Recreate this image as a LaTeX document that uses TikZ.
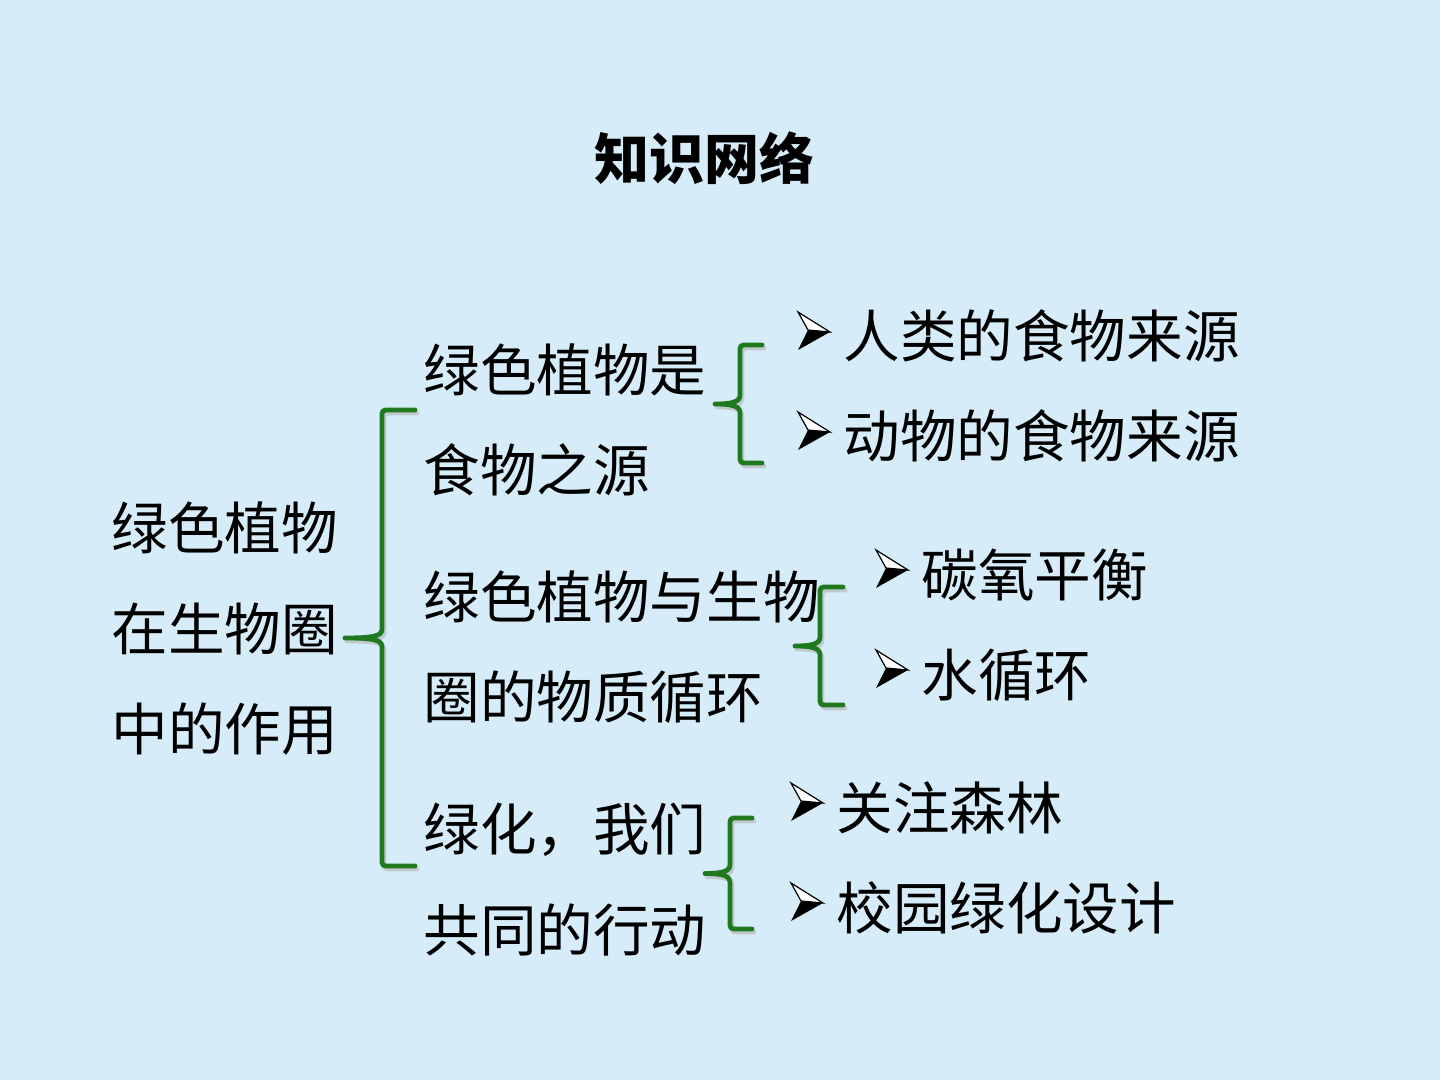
\documentclass[tikz,border=0pt]{standalone}
\usepackage{fontspec}
\newfontfamily\cjk{Noto Sans CJK SC}
\definecolor{bgblue}{HTML}{D6ECF8}
\definecolor{brgreen}{HTML}{1F7A1F}
\tikzset{
  txt/.style={anchor=west,inner sep=0pt,font=\cjk\fontsize{28.3}{34}\selectfont,text=black},
  ttl/.style={anchor=center,inner sep=0pt,font=\cjk\bfseries\fontsize{27.5}{33}\selectfont,text=black},
  brline/.style={draw=brgreen,line width=2.4pt,line cap=round,line join=round},
  brshadow/.style={draw=gray!60,line width=2.4pt,line cap=round,line join=round,opacity=0.6}
}
% brace: #1 style, #2 = vertical x, #3 = top y, #4 = bottom y, #5 = tip x, #6 = end x
\newcommand\gbrace[6]{%
  \path[#1] ({#6},{#3}) -- ({#2+8},{#3}) .. controls ({#2},{#3}) and ({#2},{#3}) .. ({#2},{#3+8})
    -- ({#2},{(#3+#4)/2-9}) .. controls ({#2},{(#3+#4)/2-2}) and ({#2-8},{(#3+#4)/2}) .. ({#5},{(#3+#4)/2})
    .. controls ({#2-8},{(#3+#4)/2}) and ({#2},{(#3+#4)/2+2}) .. ({#2},{(#3+#4)/2+9})
    -- ({#2},{#4-8}) .. controls ({#2},{#4}) and ({#2},{#4}) .. ({#2+8},{#4}) -- ({#6},{#4});%
}
\newcommand\mybrace[5]{%
  \begin{scope}[shift={(2,3)}]\gbrace{brshadow}{#1}{#2}{#3}{#4}{#5}\end{scope}
  \gbrace{brline}{#1}{#2}{#3}{#4}{#5}%
}
% arrow marker with tip at (#1,#2)
\newcommand\arrowmark[2]{%
  \fill[black] ({#1-22},{#2-2}) -- ({#1},{#2}) -- ({#1-32},{#2+18}) -- cycle;
  \filldraw[fill=white,draw=black,line width=0.6pt,line join=miter] ({#1-32},{#2-20}) -- ({#1},{#2}) -- ({#1-22},{#2-2}) -- cycle;
}
\begin{document}
\begin{tikzpicture}[x=0.5pt,y=-0.5pt]
\fill[bgblue] (0,0) rectangle (1440,1080);
\useasboundingbox (0,0) rectangle (1440,1080);

\node[ttl] (title) at (704,158) {知识网络};

\node[txt] (l1) at (111,528) {绿色植物};
\node[txt] (l2) at (111,629) {在生物圈};
\node[txt] (l3) at (111,729) {中的作用};

\node[txt] (a1) at (423,370) {绿色植物是};
\node[txt] (a2) at (423,470) {食物之源};
\node[txt] (b1) at (423,597) {绿色植物与生物};
\node[txt] (b2) at (423,697) {圈的物质循环};
\node[txt] (c1) at (423,830) {绿化，我们};
\node[txt] (c2) at (423,930) {共同的行动};

\node[txt] (a11) at (843,336) {人类的食物来源};
\node[txt] (a12) at (843,436) {动物的食物来源};
\node[txt] (b11) at (921,575) {碳氧平衡};
\node[txt] (b12) at (921,675) {水循环};
\node[txt] (c11) at (836,808) {关注森林};
\node[txt] (c12) at (836,908) {校园绿化设计};

\mybrace{382}{410}{866}{345}{415}
\mybrace{740}{345}{463}{715}{762}
\mybrace{820}{587}{705}{795}{843}
\mybrace{730}{818}{929}{705}{752}

\arrowmark{830}{332}
\arrowmark{830}{432}
\arrowmark{908}{570}
\arrowmark{908}{670}
\arrowmark{823}{803}
\arrowmark{823}{903}

\end{tikzpicture}
\end{document}
